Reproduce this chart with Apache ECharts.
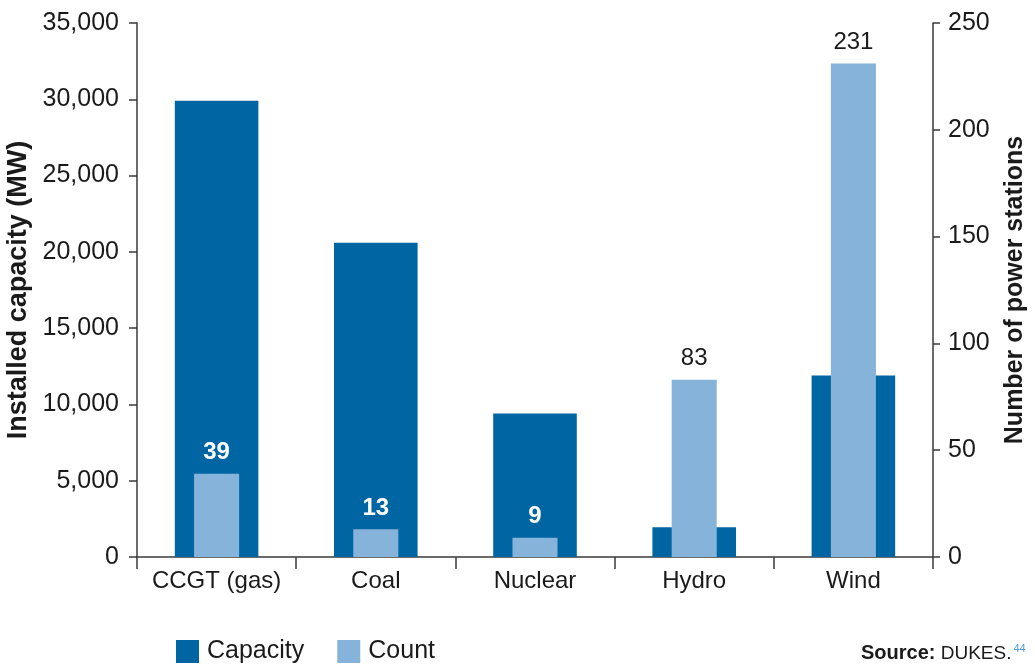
<!DOCTYPE html>
<html>
<head>
<meta charset="utf-8">
<title>Installed capacity and number of power stations</title>
<script src="https://cdn.jsdelivr.net/npm/echarts@6/dist/echarts.min.js"></script>
<style>
  html, body { margin: 0; padding: 0; background: #ffffff; }
  #chart { width: 1035px; height: 666px; }
</style>
</head>
<body>
<div id="chart"></div>
<script>
// Power station fleet by technology
const categories = ['CCGT (gas)', 'Coal', 'Nuclear', 'Hydro', 'Wind'];
const capacityMW = [29900, 20600, 9400, 1950, 11900];
const stationCount = [39, 13, 9, 83, 231];
const capacityTicks = [0, 5000, 10000, 15000, 20000, 25000, 30000, 35000];
const countTicks = [0, 50, 100, 150, 200, 250];
const seriesNames = ['Capacity', 'Count'];

const FONT = '"Liberation Sans", Arial, Helvetica, sans-serif';
const TEXT = '#1a1a1a';
const AXIS = '#3a3a3a';
const DARK = '#0065a3';
const LIGHT = '#85b3d9';

const capMax = capacityTicks[capacityTicks.length - 1];
const cntMax = countTicks[countTicks.length - 1];

// Count labels sit in white on the capacity bar when that bar rises above them
const countData = stationCount.map(function (v, i) {
  const onDark = capacityMW[i] / capMax > v / cntMax;
  return {
    value: v,
    label: onDark
      ? { color: '#ffffff', fontWeight: 'bold' }
      : { color: TEXT, fontWeight: 'normal' }
  };
});

const chart = echarts.init(document.getElementById('chart'), null, { renderer: 'canvas' });

chart.setOption({
  animation: false,
  textStyle: { fontFamily: FONT },
  grid: {
    left: 137, right: 102, top: 23, bottom: 109,
    containLabel: false,
    outerBoundsMode: 'none'
  },
  legend: {
    data: seriesNames,
    left: 176,
    top: 639,
    padding: 0,
    icon: 'rect',
    itemWidth: 23,
    itemHeight: 23,
    itemGap: 33,
    textStyle: { fontFamily: FONT, fontSize: 25, color: TEXT, padding: [0, 0, 0, 3] }
  },
  xAxis: [
    {
      type: 'category',
      data: categories,
      axisLine: { lineStyle: { color: AXIS, width: 1.5 } },
      axisTick: { show: true, interval: 0, length: 12, lineStyle: { color: AXIS, width: 1.5 } },
      axisLabel: { interval: 0, fontFamily: FONT, fontSize: 24, color: TEXT, margin: 12 }
    },
    {
      type: 'category',
      data: categories,
      show: false
    }
  ],
  yAxis: [
    {
      type: 'value',
      min: capacityTicks[0],
      max: capMax,
      interval: capacityTicks[1] - capacityTicks[0],
      name: 'Installed capacity (MW)',
      nameLocation: 'middle',
      nameRotate: 90,
      nameGap: 99,
      nameTextStyle: { fontFamily: FONT, fontSize: 27, fontWeight: 'bold', color: TEXT },
      axisLine: { show: true, lineStyle: { color: AXIS, width: 1.5 } },
      axisTick: { show: true, length: 8, lineStyle: { color: AXIS, width: 1.5 } },
      axisLabel: {
        fontFamily: FONT, fontSize: 25, color: TEXT, margin: 18,
        formatter: function (v) { return v.toLocaleString('en-US'); }
      },
      splitLine: { show: false }
    },
    {
      type: 'value',
      position: 'right',
      min: countTicks[0],
      max: cntMax,
      interval: countTicks[1] - countTicks[0],
      name: 'Number of power stations',
      nameLocation: 'middle',
      nameRotate: 90,
      nameGap: 70,
      nameTextStyle: { fontFamily: FONT, fontSize: 25, fontWeight: 'bold', color: TEXT },
      axisLine: { show: true, lineStyle: { color: AXIS, width: 1.5 } },
      axisTick: { show: true, length: 7, lineStyle: { color: AXIS, width: 1.5 } },
      axisLabel: { fontFamily: FONT, fontSize: 25, color: TEXT, margin: 15 },
      splitLine: { show: false }
    }
  ],
  series: [
    {
      name: seriesNames[0],
      type: 'bar',
      xAxisIndex: 0,
      yAxisIndex: 0,
      barWidth: '52.5%',
      itemStyle: { color: DARK },
      data: capacityMW
    },
    {
      name: seriesNames[1],
      type: 'bar',
      xAxisIndex: 1,
      yAxisIndex: 1,
      barWidth: '28.3%',
      itemStyle: { color: LIGHT },
      label: {
        show: true,
        position: 'top',
        distance: 9,
        fontFamily: FONT,
        fontSize: 24
      },
      data: countData
    }
  ],
  graphic: [
    {
      type: 'text',
      left: 861,
      top: 643,
      style: {
        text: '{b|Source:}{n| DUKES.}{s|44}',
        rich: {
          b: { fontFamily: FONT, fontSize: 20, fontWeight: 'bold', fill: TEXT, verticalAlign: 'bottom' },
          n: { fontFamily: FONT, fontSize: 19, fill: TEXT, verticalAlign: 'bottom' },
          s: { fontFamily: FONT, fontSize: 11, fill: '#4f9bd0', verticalAlign: 'top', padding: [0, 0, 4, 2] }
        }
      }
    }
  ]
});
</script>
</body>
</html>
